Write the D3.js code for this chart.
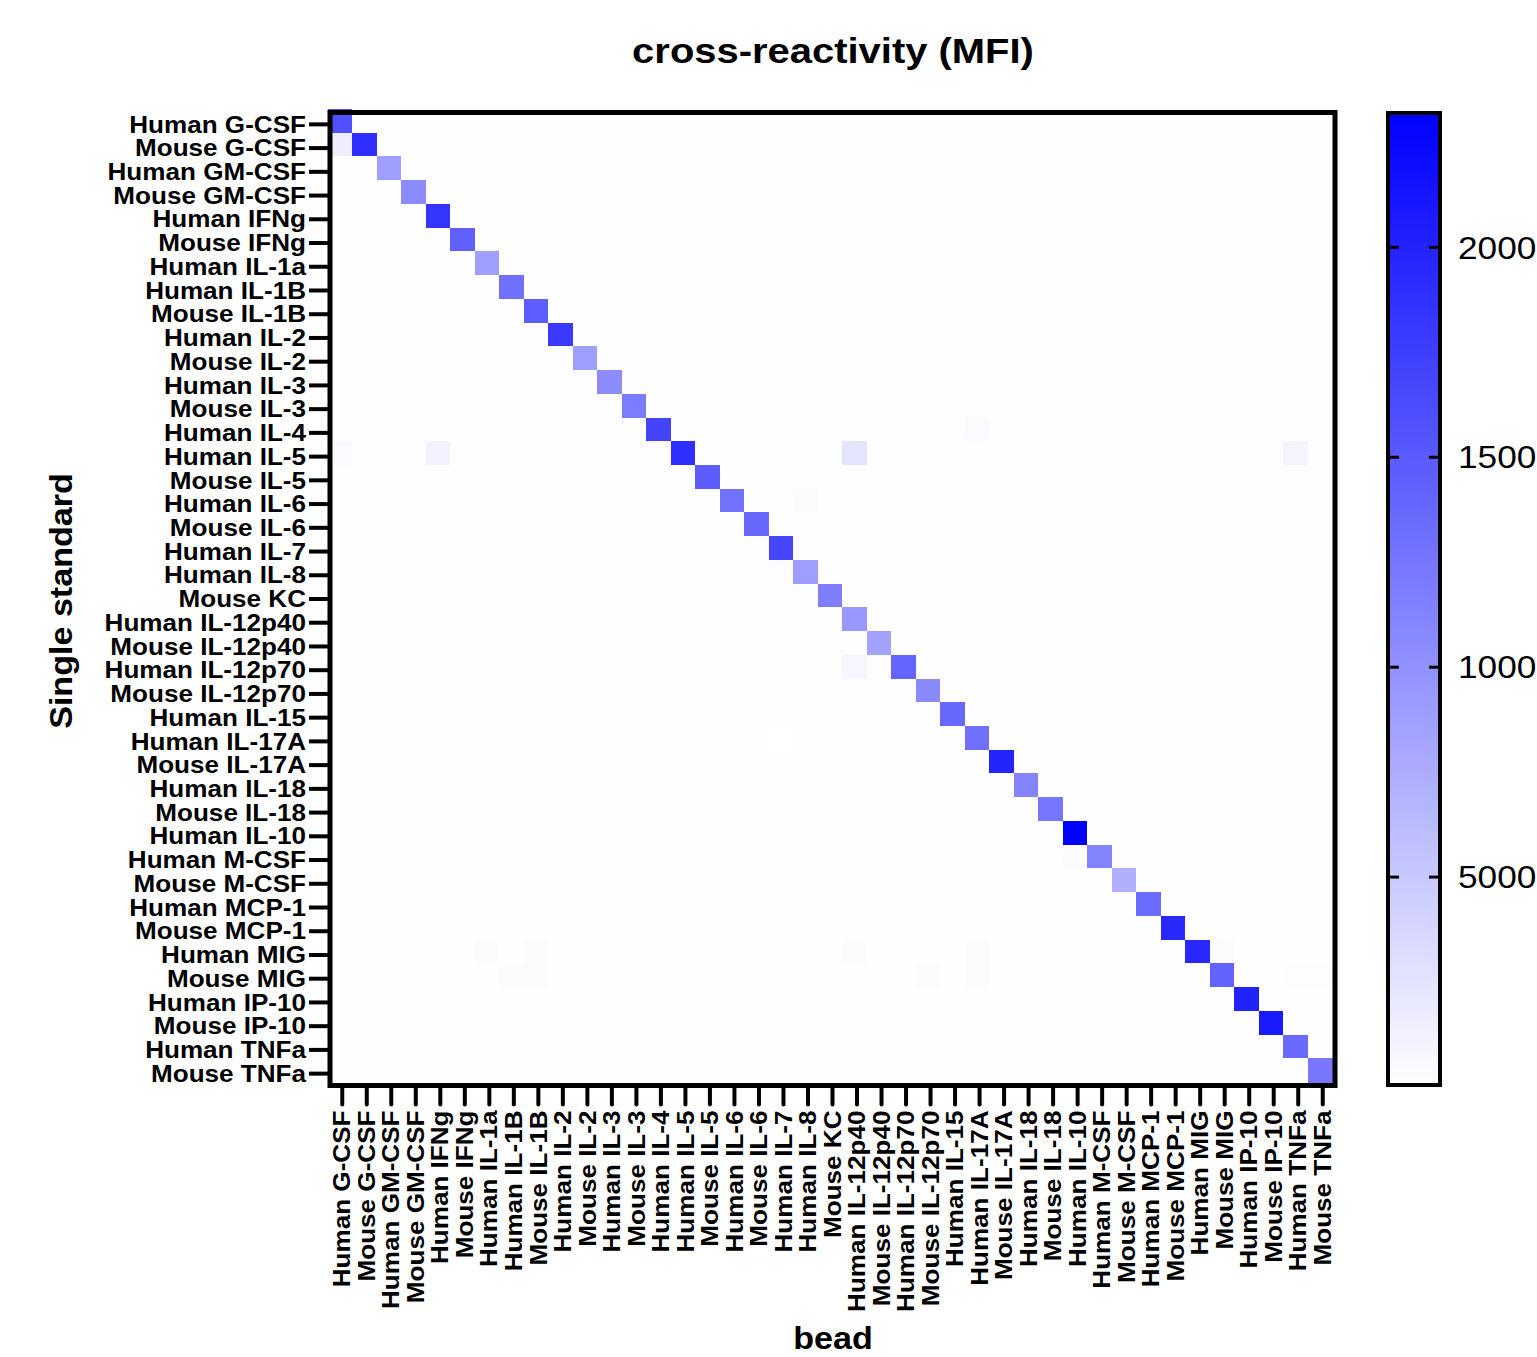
<!DOCTYPE html>
<html>
<head>
<meta charset="utf-8">
<script src="https://cdn.jsdelivr.net/npm/d3@7"></script>
<style>
  body { margin: 0; background: #fff; }
  svg text { font-family: "Liberation Sans", Arial, Helvetica, sans-serif; fill: #000; }
</style>
</head>
<body>
<svg id="chart" width="1537" height="1357"></svg>
<script>
// analytes, same order for standards (rows) and beads (columns)
var analytes = ["Human G-CSF", "Mouse G-CSF", "Human GM-CSF", "Mouse GM-CSF", "Human IFNg", "Mouse IFNg",
    "Human IL-1a", "Human IL-1B", "Mouse IL-1B", "Human IL-2", "Mouse IL-2", "Human IL-3", "Mouse IL-3",
    "Human IL-4", "Human IL-5", "Mouse IL-5", "Human IL-6", "Mouse IL-6", "Human IL-7", "Human IL-8",
    "Mouse KC", "Human IL-12p40", "Mouse IL-12p40", "Human IL-12p70", "Mouse IL-12p70", "Human IL-15",
    "Human IL-17A", "Mouse IL-17A", "Human IL-18", "Mouse IL-18", "Human IL-10", "Human M-CSF",
    "Mouse M-CSF", "Human MCP-1", "Mouse MCP-1", "Human MIG", "Mouse MIG", "Human IP-10", "Mouse IP-10",
    "Human TNFa", "Mouse TNFa"];

// MFI of each standard on its own bead
var diagonalMFI = [1592, 1901, 873, 1046, 1838, 1447, 873, 1301, 1465, 1801, 873, 1046, 1192,
    1701, 1892, 1480, 1283, 1374, 1683, 882, 1174, 937, 837, 1410, 1064, 1374,
    1301, 1992, 1119, 1246, 2320, 1119, 719, 1337, 1956, 1956, 1428, 2011, 2083,
    1356, 1237];

// visible cross-reactive cells: [standard index, bead index, MFI]
var crossCells = [
    [1, 0, 155], [14, 0, 40], [14, 4, 110], [14, 21, 245], [13, 26, 45], [14, 39, 90],
    [16, 19, 27], [19, 18, 20], [23, 21, 82], [26, 18, 0], [31, 30, 50], [35, 36, 25],
    [35, 6, 25], [35, 8, 25], [36, 7, 25], [36, 8, 30], [35, 21, 30], [36, 24, 25],
    [35, 26, 25], [36, 26, 25], [36, 39, 20], [36, 40, 20]
];

// level of all the remaining (blank) cells
var backgroundMFI = 8;

var colorTicks = [500, 1000, 1500, 2000];
var colorTickLabels = ["5000", "1000", "1500", "2000"];
var colorMax = 2320;

// build the full matrix
var cells = [];
analytes.forEach(function(std, i) {
    analytes.forEach(function(bead, j) {
        cells.push({row: std, col: bead, value: i === j ? diagonalMFI[i] : backgroundMFI});
    });
});
crossCells.forEach(function(c) {
    cells[c[0] * analytes.length + c[1]].value = c[2];
});

var plot = {left: 330, top: 112.5, right: 1335, bottom: 1085.5};

var svg = d3.select("#chart");

var x = d3.scaleBand().domain(analytes).range([plot.left, plot.right]);
var y = d3.scaleBand().domain(analytes).range([plot.top, plot.bottom]);
var color = d3.scaleLinear().domain([0, colorMax]).range(["#ffffff", "#0000ff"]);

// heatmap cells (drawn a touch up-left of the frame, as in the original)
svg.append("g")
    .attr("transform", "translate(-2.5,-3.5)")
    .selectAll("rect")
    .data(cells)
    .enter().append("rect")
    .attr("x", function(d) { return x(d.col); })
    .attr("y", function(d) { return y(d.row); })
    .attr("width", x.bandwidth() + 0.6)
    .attr("height", y.bandwidth() + 0.6)
    .attr("fill", function(d) { return color(d.value); })
    .attr("shape-rendering", "crispEdges");

// frame
svg.append("rect")
    .attr("x", plot.left)
    .attr("y", plot.top)
    .attr("width", plot.right - plot.left)
    .attr("height", plot.bottom - plot.top)
    .attr("fill", "none")
    .attr("stroke", "#000")
    .attr("stroke-width", 5);

// y axis
var yAxis = svg.append("g")
    .attr("transform", "translate(" + (plot.left - 2) + ",0)")
    .call(d3.axisLeft(y).tickSize(19).tickPadding(0));
yAxis.select(".domain").remove();
yAxis.selectAll(".tick line").attr("stroke", "#000").attr("stroke-width", 4);
yAxis.selectAll(".tick text")
    .attr("x", null)
    .attr("dy", "0.35em")
    .attr("transform", "translate(-22,0) scale(1.12,1)")
    .attr("text-anchor", "end")
    .style("font-size", "23.3px")
    .style("font-weight", "bold");

// x axis
var xAxis = svg.append("g")
    .attr("transform", "translate(0," + (plot.bottom + 2) + ")")
    .call(d3.axisBottom(x).tickSize(17).tickPadding(0));
xAxis.select(".domain").remove();
xAxis.selectAll(".tick line").attr("stroke", "#000").attr("stroke-width", 4).attr("stroke-linecap", "round");
xAxis.selectAll(".tick text")
    .attr("y", null)
    .attr("dy", "0.35em")
    .attr("transform", "translate(0,23) rotate(-90) scale(1.12,1)")
    .attr("text-anchor", "end")
    .style("font-size", "23.3px")
    .style("font-weight", "bold");

// titles
svg.append("text")
    .text("cross-reactivity (MFI)")
    .attr("text-anchor", "middle")
    .attr("transform", "translate(833,63) scale(1.11,1)")
    .style("font-size", "36px")
    .style("font-weight", "bold");

svg.append("text")
    .text("Single standard")
    .attr("text-anchor", "middle")
    .attr("transform", "translate(72,601) rotate(-90) scale(1.1,1)")
    .style("font-size", "31px")
    .style("font-weight", "bold");

svg.append("text")
    .text("bead")
    .attr("text-anchor", "middle")
    .attr("transform", "translate(833,1349) scale(1.1,1)")
    .style("font-size", "31px")
    .style("font-weight", "bold");

// colour bar
var bar = {left: 1388, right: 1440, top: 113, bottom: 1085};
var cy = d3.scaleLinear().domain([0, colorMax]).range([1087, 113]);

var grad = svg.append("defs").append("linearGradient")
    .attr("id", "mfiGrad")
    .attr("x1", 0).attr("y1", 1).attr("x2", 0).attr("y2", 0);
grad.selectAll("stop")
    .data(d3.range(0, 11))
    .enter().append("stop")
    .attr("offset", function(d) { return d / 10; })
    .attr("stop-color", function(d) { return color(cy.invert(bar.bottom - d / 10 * (bar.bottom - bar.top))); });

svg.append("rect")
    .attr("x", bar.left)
    .attr("y", bar.top)
    .attr("width", bar.right - bar.left)
    .attr("height", bar.bottom - bar.top)
    .attr("fill", "url(#mfiGrad)")
    .attr("stroke", "#000")
    .attr("stroke-width", 4);

var ticks = svg.append("g").selectAll("g")
    .data(colorTicks)
    .enter().append("g")
    .attr("transform", function(d) { return "translate(0," + cy(d) + ")"; });

ticks.append("line")
    .attr("x1", bar.left).attr("x2", bar.left + 11)
    .attr("stroke", "#000").attr("stroke-width", 3);
ticks.append("line")
    .attr("x1", bar.right - 11).attr("x2", bar.right)
    .attr("stroke", "#000").attr("stroke-width", 3);
ticks.append("text")
    .text(function(d, i) { return colorTickLabels[i]; })
    .attr("dy", "0.35em")
    .attr("transform", "translate(1458,0) scale(1.1,1)")
    .style("font-size", "32px");
</script>
</body>
</html>
